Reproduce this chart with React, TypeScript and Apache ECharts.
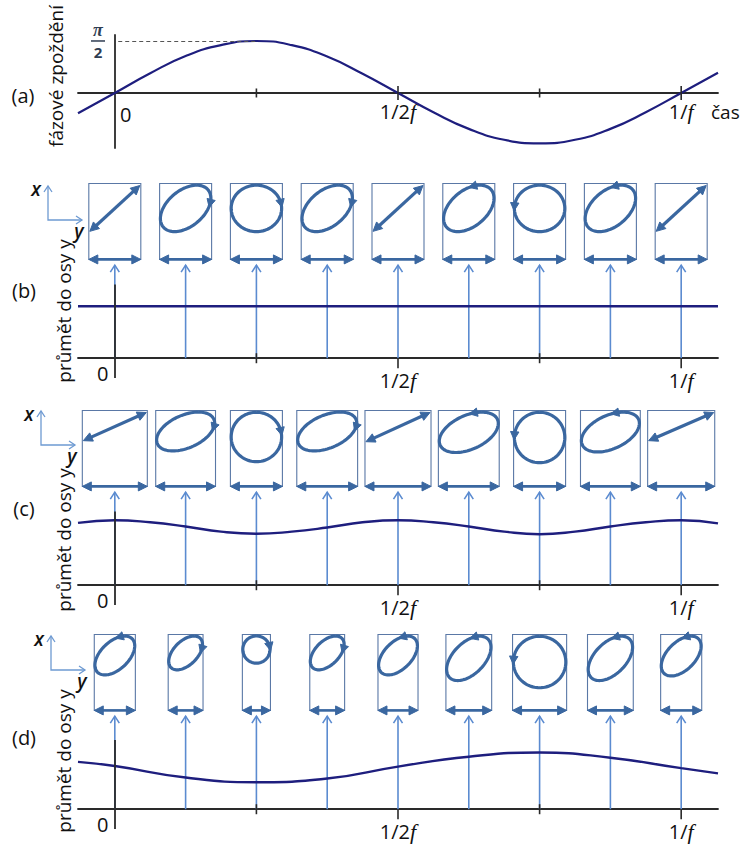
import React, { useEffect, useRef } from "react";
import * as echarts from "echarts";

// ---------- data ----------
const tickLabelValues = [0, 0.5, 1];
const tickLabelTexts = ["0", "1/2", "1/"];
const tickTimes = [0.25, 0.5, 0.75, 1];
const majorTickTimes = [0.5, 1];
const sampleTimes = [0, 0.125, 0.25, 0.375, 0.5, 0.625, 0.75, 0.875, 1];

// (a) phase delay in units of pi/2
const phaseTimes = [-0.065, 0, 0.0625, 0.125, 0.1875, 0.25, 0.3125, 0.375, 0.4375, 0.5, 0.5625, 0.625, 0.6875, 0.75, 0.8125, 0.875, 0.9375, 1, 1.065];
const phaseValues = [-0.39, 0, 0.38, 0.71, 0.92, 1.0, 0.92, 0.7, 0.37, 0, -0.37, -0.69, -0.9, -0.97, -0.9, -0.69, -0.37, 0, 0.39];

// (b) projection onto y axis
const projBTimes = [-0.065, 1.065];
const projBValues = [1.0, 1.0];
const boxWidthB = [1, 1, 1, 1, 1, 1, 1, 1, 1];
const ellipseHeightB = [0.92, 0.92, 0.92, 0.92, 0.92, 0.92, 0.92, 0.92, 0.92];
const phaseB = [0, 64, 90, 64, 0, -64, -90, -64, 0];

// (c)
const projCTimes = [-0.065, 0, 0.0625, 0.125, 0.1875, 0.25, 0.3125, 0.375, 0.4375, 0.5, 0.5625, 0.625, 0.6875, 0.75, 0.8125, 0.875, 0.9375, 1, 1.065];
const projCValues = [1.2, 1.25, 1.21, 1.13, 1.03, 0.99, 1.03, 1.11, 1.21, 1.25, 1.21, 1.13, 1.03, 0.98, 1.03, 1.13, 1.21, 1.25, 1.19];
const boxWidthC = [1.25, 1.15, 1.0, 1.17, 1.27, 1.17, 1.0, 1.15, 1.29];
const ellipseHeightC = [0.58, 0.77, 0.98, 0.77, 0.6, 0.8, 1.0, 0.79, 0.58];
const phaseC = [0, 64, 90, 64, 0, -64, -90, -64, 0];

// (d)
const projDTimes = [-0.065, 0, 0.125, 0.25, 0.375, 0.5, 0.625, 0.75, 0.875, 1, 1.065];
const projDValues = [0.91, 0.83, 0.61, 0.52, 0.59, 0.82, 1.01, 1.09, 0.99, 0.79, 0.69];
const boxWidthD = [0.79, 0.67, 0.54, 0.67, 0.77, 0.88, 1.04, 0.88, 0.79];
const ellipseHeightD = [0.77, 0.67, 0.54, 0.67, 0.77, 0.88, 1.02, 0.88, 0.79];
const phaseD = [-60, 60, 90, 60, -60, -60, -90, -60, -60];

// ---------- styles / layout ----------
const FONT = "Open Sans";
const CURVE = "#1e1e7e";
const ELL = "#3a67a0";
const BOXC = "#5a78a6";
const UPC = "#5b8bd0";
const ICONC = "#6e9ad2";
const AXISC = "#2a2a2a";
const X_MIN = -0.065;
const X_MAX = 1.065;
const BOX_TOP = 3.36;
const BOX_BOTTOM = 1.9;
const ARROW_TIP = 1.79;
const Y_MIN = -0.45;
const UNIT = 52;
const GRID_H = (BOX_TOP - Y_MIN) * UNIT;
const A_MIN = -1.06;
const A_MAX = 1.115;

const zip = (xs: number[], ys: number[]) => xs.map((x, i) => [x, ys[i]]);

function head(tx: number, ty: number, dx: number, dy: number, len = 8, hw = 4.2) {
  const l = Math.hypot(dx, dy) || 1;
  const ux = dx / l, uy = dy / l;
  const bx = tx - ux * len, by = ty - uy * len;
  return {
    type: "polygon",
    shape: { points: [[tx, ty], [bx - uy * hw, by + ux * hw], [bx + uy * hw, by - ux * hw]] },
    style: { fill: ELL, stroke: ELL, lineWidth: 1 },
  };
}

function boxRender(params: any, api: any) {
  const t = api.value(0);
  const w = api.value(1);
  const h = api.value(2);
  const ph = (api.value(3) * Math.PI) / 180;
  const [cx, topY] = api.coord([t, BOX_TOP]);
  const botY = api.coord([t, BOX_BOTTOM])[1];
  const unit = api.size([0, 1])[1];
  const halfW = (w * unit) / 2;
  const halfH = (h * unit) / 2;
  const ecy = topY + halfH + 1;
  const children: any[] = [];
  children.push({
    type: "rect",
    shape: { x: cx - halfW, y: topY, width: halfW * 2, height: botY - topY },
    style: { fill: "none", stroke: BOXC, lineWidth: 1.1 },
  });
  if (Math.abs(ph) < 0.01) {
    const x1 = cx - halfW + 1, y1 = ecy + halfH - 1, x2 = cx + halfW - 1, y2 = ecy - halfH + 1;
    const dx = x2 - x1, dy = y2 - y1, l = Math.hypot(dx, dy);
    children.push({
      type: "line",
      shape: { x1: x1 + (dx / l) * 5, y1: y1 + (dy / l) * 5, x2: x2 - (dx / l) * 5, y2: y2 - (dy / l) * 5 },
      style: { stroke: ELL, lineWidth: 3.2 },
    });
    children.push(head(x2, y2, dx, dy, 9, 4.5));
    children.push(head(x1, y1, -dx, -dy, 9, 4.5));
  } else {
    const pts: number[][] = [];
    for (let k = 0; k <= 96; k++) {
      const s = (2 * Math.PI * k) / 96;
      pts.push([cx + halfW * 0.97 * Math.cos(s - ph), ecy - halfH * 0.97 * Math.cos(s)]);
    }
    children.push({ type: "polyline", shape: { points: pts }, style: { fill: "none", stroke: ELL, lineWidth: 3.2 } });
    const s0 = ph > 0 ? 1.35 : ph < -1.4 ? 1.5 : 0.3;
    const px = cx + halfW * 0.97 * Math.cos(s0 - ph);
    const py = ecy - halfH * 0.97 * Math.cos(s0);
    const ddx = -halfW * Math.sin(s0 - ph);
    const ddy = halfH * Math.sin(s0);
    const l = Math.hypot(ddx, ddy) || 1;
    children.push(head(px + (ddx / l) * 4, py + (ddy / l) * 4, ddx, ddy, 8, 4.2));
  }
  // double arrow on the bottom edge
  children.push({
    type: "line",
    shape: { x1: cx - halfW + 5, y1: botY, x2: cx + halfW - 5, y2: botY },
    style: { stroke: ELL, lineWidth: 2.6 },
  });
  children.push(head(cx + halfW, botY, 1, 0, 9, 4.5));
  children.push(head(cx - halfW, botY, -1, 0, 9, 4.5));
  return { type: "group", children };
}

function upArrowRender(params: any, api: any) {
  const t = api.value(0);
  const tip = api.value(1);
  const [x, y0] = api.coord([t, 0]);
  const y1 = api.coord([t, tip])[1];
  return {
    type: "group",
    children: [
      { type: "line", shape: { x1: x, y1: y0, x2: x, y2: y1 }, style: { stroke: UPC, lineWidth: 1.6 } },
      {
        type: "polyline",
        shape: { points: [[x - 4.5, y1 + 7], [x, y1], [x + 4.5, y1 + 7]] },
        style: { stroke: UPC, lineWidth: 1.6, fill: "none" },
      },
    ],
  };
}

const tickRender = (crossing: boolean) => (params: any, api: any) => {
  const t = api.value(0);
  const [x, y] = api.coord([t, 0]);
  const major = majorTickTimes.indexOf(t) >= 0;
  let up: number, down: number;
  if (crossing) {
    up = major ? 7 : 4.5;
    down = up;
  } else {
    up = major ? 0 : 5;
    down = major ? 10 : 5;
  }
  return { type: "line", shape: { x1: x, y1: y - up, x2: x, y2: y + down }, style: { stroke: AXISC, lineWidth: 1.6 } };
};

const richBase = {
  n: { fontSize: 20, fontFamily: FONT, color: "#111", lineHeight: 22 },
  f: { fontSize: 22, fontFamily: "Liberation Serif", fontStyle: "italic", color: "#111", lineHeight: 22 },
  za: { fontSize: 20, fontFamily: FONT, color: "#111", lineHeight: 28, padding: [0, 0, 0, 22] },
  zb: { fontSize: 20, fontFamily: FONT, color: "#111", lineHeight: 8, padding: [0, 24, 0, 0] },
};

const labelFormatter = (zeroToken: string) => (v: number) => {
  const i = tickLabelValues.findIndex((x) => Math.abs(x - v) < 1e-6);
  if (i === 0) return `{${zeroToken}|${tickLabelTexts[0]}}`;
  return `{n|${tickLabelTexts[i]}}{f|f}`;
};

// labels are laid out from the grid's bottom edge; negative margins bring them up to the zero line
function xAxisFor(gridIndex: number, zeroToken: string, margin: number, extra: any = {}) {
  return {
    type: "value",
    gridIndex,
    min: X_MIN,
    max: X_MAX,
    axisLine: { show: true, onZero: true, lineStyle: { color: AXISC, width: 1.8 } },
    axisTick: { show: false },
    splitLine: { show: false },
    axisLabel: {
      customValues: tickLabelValues,
      margin,
      formatter: labelFormatter(zeroToken),
      rich: richBase,
    },
    ...extra,
  };
}

function panelSeries(
  gi: number,
  projTimes: number[],
  projValues: number[],
  widths: number[],
  heights: number[],
  phases: number[],
  axisTop: number
) {
  return [
    {
      type: "custom",
      xAxisIndex: gi,
      yAxisIndex: gi,
      z: 2,
      silent: true,
      renderItem: upArrowRender,
      encode: { x: 0, y: 1 },
      data: sampleTimes.map((t) => [t, ARROW_TIP]),
    },
    {
      type: "custom",
      xAxisIndex: gi,
      yAxisIndex: gi,
      z: 3,
      silent: true,
      renderItem: boxRender,
      encode: { x: 0, y: 1 },
      data: sampleTimes.map((t, i) => [t, widths[i], heights[i], phases[i]]),
    },
    {
      type: "line",
      xAxisIndex: gi,
      yAxisIndex: gi,
      z: 4,
      silent: true,
      smooth: 0.5,
      showSymbol: false,
      lineStyle: { color: CURVE, width: 2.4 },
      data: zip(projTimes, projValues),
      markLine: {
        silent: true,
        symbol: "none",
        label: { show: false },
        lineStyle: { color: AXISC, width: 1.8, type: "solid" },
        data: [[{ coord: [0, -0.38] }, { coord: [0, axisTop] }]],
      },
    },
    {
      type: "custom",
      xAxisIndex: gi,
      yAxisIndex: gi,
      z: 5,
      silent: true,
      renderItem: tickRender(false),
      encode: { x: 0, y: 1 },
      data: tickTimes.map((t) => [t, 0]),
    },
  ];
}

function icon(ox: number, oy: number) {
  const up = 34;
  const right = 34;
  const ls = { stroke: ICONC, lineWidth: 1.3, fill: "none" };
  return [
    { type: "polyline", shape: { points: [[ox, oy - up], [ox, oy], [ox + right, oy]] }, style: ls },
    { type: "polyline", shape: { points: [[ox - 4, oy - up + 6], [ox, oy - up], [ox + 4, oy - up + 6]] }, style: ls },
    { type: "polyline", shape: { points: [[ox + right - 6, oy - 4], [ox + right, oy], [ox + right - 6, oy + 4]] }, style: ls },
    {
      type: "text",
      x: ox - 12,
      y: oy - 31,
      style: { text: "x", font: "italic 600 19px 'Open Sans'", fill: "#111", align: "center", verticalAlign: "middle" },
    },
    {
      type: "text",
      x: ox + 31,
      y: oy + 11,
      style: { text: "y", font: "italic 600 19px 'Open Sans'", fill: "#111", align: "center", verticalAlign: "middle" },
    },
  ];
}

function panelLabel(text: string, x: number, y: number) {
  return {
    type: "text",
    x,
    y,
    style: { text, font: `20px '${FONT}'`, fill: "#111", align: "center", verticalAlign: "middle" },
  };
}

function yTitle(text: string, x: number, y: number) {
  return {
    type: "text",
    x,
    y,
    rotation: Math.PI / 2,
    style: { text, font: `19px '${FONT}'`, fill: "#111", align: "center", verticalAlign: "middle" },
  };
}

const gridBottomGapA = (-A_MIN) * UNIT; // zero line to grid bottom, panel (a)
const gridBottomGapB = (-Y_MIN) * UNIT; // zero line to grid bottom, panels (b)-(d)

const option: any = {
  animation: false,
  backgroundColor: "#ffffff",
  textStyle: { fontFamily: FONT },
  grid: [
    { left: 78, width: 640, top: 35, height: (A_MAX - A_MIN) * UNIT },
    { left: 78, width: 640, top: 183.5, height: GRID_H },
    { left: 78, width: 640, top: 410.5, height: GRID_H },
    { left: 78, width: 640, top: 634.5, height: GRID_H },
  ],
  xAxis: [
    xAxisFor(0, "za", 8 - gridBottomGapA, {
      name: "čas",
      nameLocation: "end",
      nameGap: -7,
      nameTextStyle: { fontSize: 19, fontFamily: FONT, color: "#111", align: "left", verticalAlign: "top", lineHeight: 22, padding: [8, 0, 0, 0] },
    }),
    xAxisFor(1, "zb", 11 - gridBottomGapB),
    xAxisFor(2, "zb", 11 - gridBottomGapB),
    xAxisFor(3, "zb", 11 - gridBottomGapB),
  ],
  yAxis: [
    {
      type: "value",
      gridIndex: 0,
      min: A_MIN,
      max: A_MAX,
      axisLine: { show: true, onZero: true, lineStyle: { color: AXISC, width: 1.8 } },
      axisTick: { show: false },
      splitLine: { show: false },
      axisLabel: {
        customValues: [1],
        margin: -27,
        formatter: () => "{p|π}\n{bar| }\n{d|2}",
        rich: {
          p: { fontSize: 18, fontWeight: "bold", fontStyle: "italic", fontFamily: "Liberation Serif", color: "#2f3d52", lineHeight: 17, align: "center" },
          bar: { width: 14, height: 1.5, lineHeight: 5, backgroundColor: "#2f3d52", align: "center" },
          d: { fontSize: 15, fontWeight: "bold", fontFamily: FONT, color: "#2f3d52", lineHeight: 17, align: "center" },
        },
      },
    },
    ...[1, 2, 3].map((gi) => ({
      type: "value",
      gridIndex: gi,
      min: Y_MIN,
      max: BOX_TOP,
      show: false,
      splitLine: { show: false },
    })),
  ],
  graphic: {
    elements: [
      panelLabel("(a)", 23, 95),
      panelLabel("(b)", 24, 290),
      panelLabel("(c)", 24, 508),
      panelLabel("(d)", 24, 737),
      yTitle("fázové zpoždění", 56, 76),
      yTitle("průmět do osy y", 64, 311),
      yTitle("průmět do osy y", 64, 540),
      yTitle("průmět do osy y", 64, 761),
      ...icon(48, 220),
      ...icon(41, 445),
      ...icon(51, 670),
    ],
  },
  series: [
    {
      type: "line",
      xAxisIndex: 0,
      yAxisIndex: 0,
      z: 4,
      silent: true,
      smooth: 0.5,
      showSymbol: false,
      lineStyle: { color: CURVE, width: 2.2 },
      data: zip(phaseTimes, phaseValues),
      markLine: {
        silent: true,
        symbol: "none",
        label: { show: false },
        lineStyle: { color: "#555", width: 1.2, type: [4, 3] },
        data: [[{ coord: [0.006, 1] }, { coord: [0.25, 1] }]],
      },
    },
    {
      type: "custom",
      xAxisIndex: 0,
      yAxisIndex: 0,
      z: 5,
      silent: true,
      renderItem: tickRender(true),
      encode: { x: 0, y: 1 },
      data: tickTimes.map((t) => [t, 0]),
    },
    ...panelSeries(1, projBTimes, projBValues, boxWidthB, ellipseHeightB, phaseB, 1.42),
    ...panelSeries(2, projCTimes, projCValues, boxWidthC, ellipseHeightC, phaseC, 1.42),
    ...panelSeries(3, projDTimes, projDValues, boxWidthD, ellipseHeightD, phaseD, 1.33),
  ],
};

export default function App() {
  const ref = useRef<HTMLDivElement>(null);
  useEffect(() => {
    if (!ref.current) return;
    const chart = echarts.init(ref.current, null, { renderer: "svg" });
    chart.setOption(option);
    return () => chart.dispose();
  }, []);
  return (
    <div
      ref={ref}
      style={{ position: "absolute", left: 0, top: 0, width: 741, height: 845, background: "#fff" }}
    />
  );
}
